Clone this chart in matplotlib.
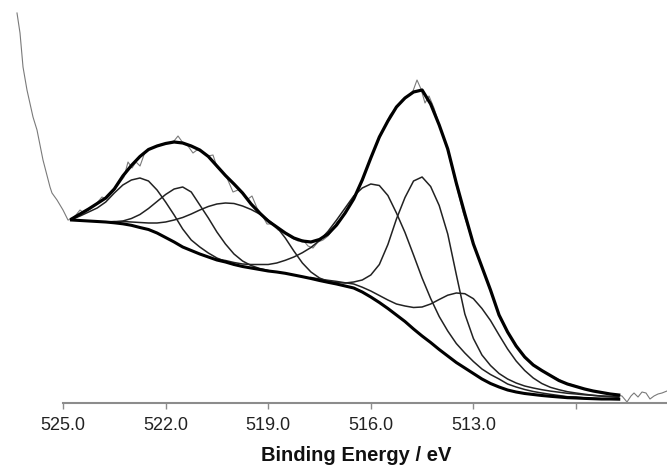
import numpy as np
import matplotlib
matplotlib.use("Agg")
import matplotlib.pyplot as plt

plt.rcParams['font.family'] = ['Liberation Sans', 'DejaVu Sans']

# binding energy grid of the fitted curves (eV), 0.25 eV step
energy = np.arange(524.75, 508.70, -0.25)

# Shirley-type background
background = [183, 182.5, 182, 181.5, 181, 180.2, 179.2, 177.7, 175.5, 173.5,
              170, 165.5, 161, 156, 152.5, 149, 146, 143, 141, 138.5,
              136.5, 135, 133.5, 132, 131, 129.7, 128, 126.3, 124.5, 122.5,
              120.7, 119, 117, 115, 111, 106, 100.5, 94.5, 88, 81.5,
              74, 67, 60.5, 53.5, 47, 40.5, 35, 29.5, 24, 19.5,
              16, 13, 11, 9.5, 8.5, 7.5, 6.7, 6, 5.3, 5,
              4.6, 4.3, 4, 4, 3.8]

# fit envelope
envelope = [184, 189, 194, 199.5, 205, 214, 227, 237.5, 246.5, 253.5,
            257, 259.5, 261, 260, 257, 253, 246.5, 237, 227.5, 219,
            210, 199, 190, 182, 176, 170, 165, 162, 161, 163.5,
            169, 178, 190, 204, 223, 245, 266, 282, 296, 305,
            311, 313, 299, 278, 254, 220, 189, 159, 136, 113,
            88, 71, 57, 46, 38, 32.5, 27.5, 22.5, 19, 16.5,
            14, 12, 10.5, 9, 8]

# fitted components (on top of background), each starts at a grid index
comp1_start = 0
comp1 = [183.5, 187, 191, 195, 201, 210, 218, 223, 225, 222,
         213, 201, 188, 174, 163, 156, 150, 145, 141.5, 138.5]

comp2_start = 4
comp2 = [181, 181, 182, 184.5, 188.5, 194.5, 201.5, 208.5, 214, 216,
         211, 198, 185, 171, 159, 149, 142, 137.5, 134.5, 132.5]

comp3_start = 4
comp3 = [181, 181.5, 181.5, 181, 180.5, 180, 180, 181, 183, 185.5,
         189, 193, 196.5, 199, 200, 199.5, 197, 193.5, 189, 183,
         176, 165, 152, 140, 131, 125, 121.5, 119]

comp4_start = 17
comp4 = [144, 142.5, 140.5, 139, 138.5, 138.5, 138.5, 140, 142.7, 146,
         150.3, 155.5, 162.5, 171.7, 183, 195, 207, 215, 219, 217.5,
         207.5, 190, 170.5, 148, 125, 104.5, 86.5, 72, 59.5, 50,
         41.5, 34, 28.5, 24, 19, 16, 13.5, 11.5, 10, 8.7,
         7.5, 6.3, 6, 5.1, 4.5, 4.2, 4.1, 3.9]

comp5_start = 29
comp5 = [123, 121.5, 120.5, 120, 121, 123, 128, 138.5, 158.5, 184,
         205.5, 222, 226, 216.5, 197.5, 169, 128.5, 89, 64.5, 48,
         37.5, 29.5, 24, 20, 17, 15, 13.3, 11.9, 10.8, 9.7,
         9, 8.2, 7.6, 7, 6.7, 6.2]

comp6_start = 28
comp6 = [125.5, 124, 122.7, 121.6, 120.2, 119, 115.8, 112, 107.5, 103,
         99, 97, 95.5, 96, 99, 103.5, 107.8, 110, 109.3, 104.3,
         94.5, 82.5, 68, 54, 42, 32.5, 25, 19.5, 15.7, 13.3,
         11.3, 10, 8.8, 7.7, 6.8, 6.3, 5.6]

# measured spectrum
raw_energy = [526.345, 526.257, 526.169, 526.053, 525.877, 525.760, 525.585, 525.380,
              525.322, 525.175, 525.000, 524.854, 524.737, 524.620, 524.503, 524.386,
              524.210, 524.035, 523.860, 523.743, 523.567, 523.392, 523.216, 523.099,
              522.982, 522.865, 522.748, 522.602, 522.456, 522.281, 522.105, 521.930,
              521.754, 521.637, 521.491, 521.345, 521.199, 521.082, 520.906, 520.760,
              520.614, 520.497, 520.351, 520.205, 520.029, 519.883, 519.737, 519.591,
              519.474, 519.327, 519.181, 519.035, 518.889, 518.713, 518.509, 518.304,
              518.129, 517.982, 517.836, 517.690, 517.544, 517.398, 517.251, 517.105,
              516.988, 516.842, 516.667, 516.462, 516.257, 516.023, 515.819, 515.643,
              515.438, 515.263, 515.088, 514.912, 514.766, 514.649, 514.532, 514.415,
              514.298, 514.152, 513.977, 513.772, 513.538, 513.304, 513.041, 512.807,
              512.515, 512.222, 511.930, 511.637, 511.345, 511.053, 510.760, 510.585,
              510.468, 510.351, 510.175, 510.000, 509.824, 509.649, 509.474, 509.298,
              509.123, 508.947, 508.801, 508.655, 508.509, 508.392, 508.304, 508.187,
              508.070, 507.953, 507.836, 507.719, 507.602, 507.485, 507.339]
raw_counts = [390, 370, 336, 313, 286, 273, 243, 216,
              210, 203, 193, 183, 184, 188, 193, 190,
              194, 199, 206, 204, 210, 218, 226, 241,
              235, 241, 237, 251, 254, 257, 259, 260,
              262, 267, 260, 257, 250, 253, 251, 247,
              248, 236, 231, 225, 211, 213, 210, 204,
              207, 195, 188, 179, 179, 173, 170, 165,
              162, 163, 157, 155, 161, 163, 167, 174,
              181, 185, 195, 207, 221, 243, 259, 273,
              288, 295, 303, 307, 312, 323, 314, 300,
              307, 295, 276, 255, 223, 191, 163, 141,
              113, 85, 67, 52, 41, 33, 28, 25,
              23, 20, 19, 17, 15, 13, 12, 11,
              10, 9, 8, 7, 1, 7, 10, 6,
              11, 10, 4, 7, 9, 10, 12]

tick_values = [525, 522, 519, 516, 513, 510]
tick_labels = ['525.0', '522.0', '519.0', '516.0', '513.0', '']

fig = plt.figure(figsize=(6.67, 4.65), dpi=100)
ax = fig.add_axes([0, 62 / 465, 1, 403 / 465])

ax.plot(raw_energy, raw_counts, color='#7a7a7a', lw=0.8, zorder=1)

comps = [(comp1_start, comp1), (comp2_start, comp2), (comp3_start, comp3),
         (comp4_start, comp4), (comp5_start, comp5), (comp6_start, comp6)]
for start, vals in comps:
    ax.plot(energy[start:start + len(vals)], vals, color='#222222', lw=1.1, zorder=2)

ax.plot(energy, background, color='black', lw=2.2, zorder=3)
ax.plot(energy, envelope, color='black', lw=2.3, zorder=4)

ax.set_xlim(526.842, 507.339)
ax.set_ylim(0, 403)

for side in ['top', 'left', 'right']:
    ax.spines[side].set_visible(False)
ax.spines['bottom'].set_bounds(507.339, 525)
ax.spines['bottom'].set_color('#8c8c8c')
ax.spines['bottom'].set_linewidth(1.5)
ax.set_yticks([])
ax.set_xticks(tick_values)
ax.set_xticklabels(tick_labels)
ax.tick_params(axis='x', direction='out', length=4, width=1, color='#8c8c8c',
               labelsize=13, labelcolor='#222222', pad=6)
ax.patch.set_alpha(0)

fig.text(356 / 667, 1 - 455 / 465, 'Binding Energy / eV', ha='center', va='center',
         fontsize=14.5, fontweight='bold', color='#111111')

fig.savefig('out.png', dpi=100)
